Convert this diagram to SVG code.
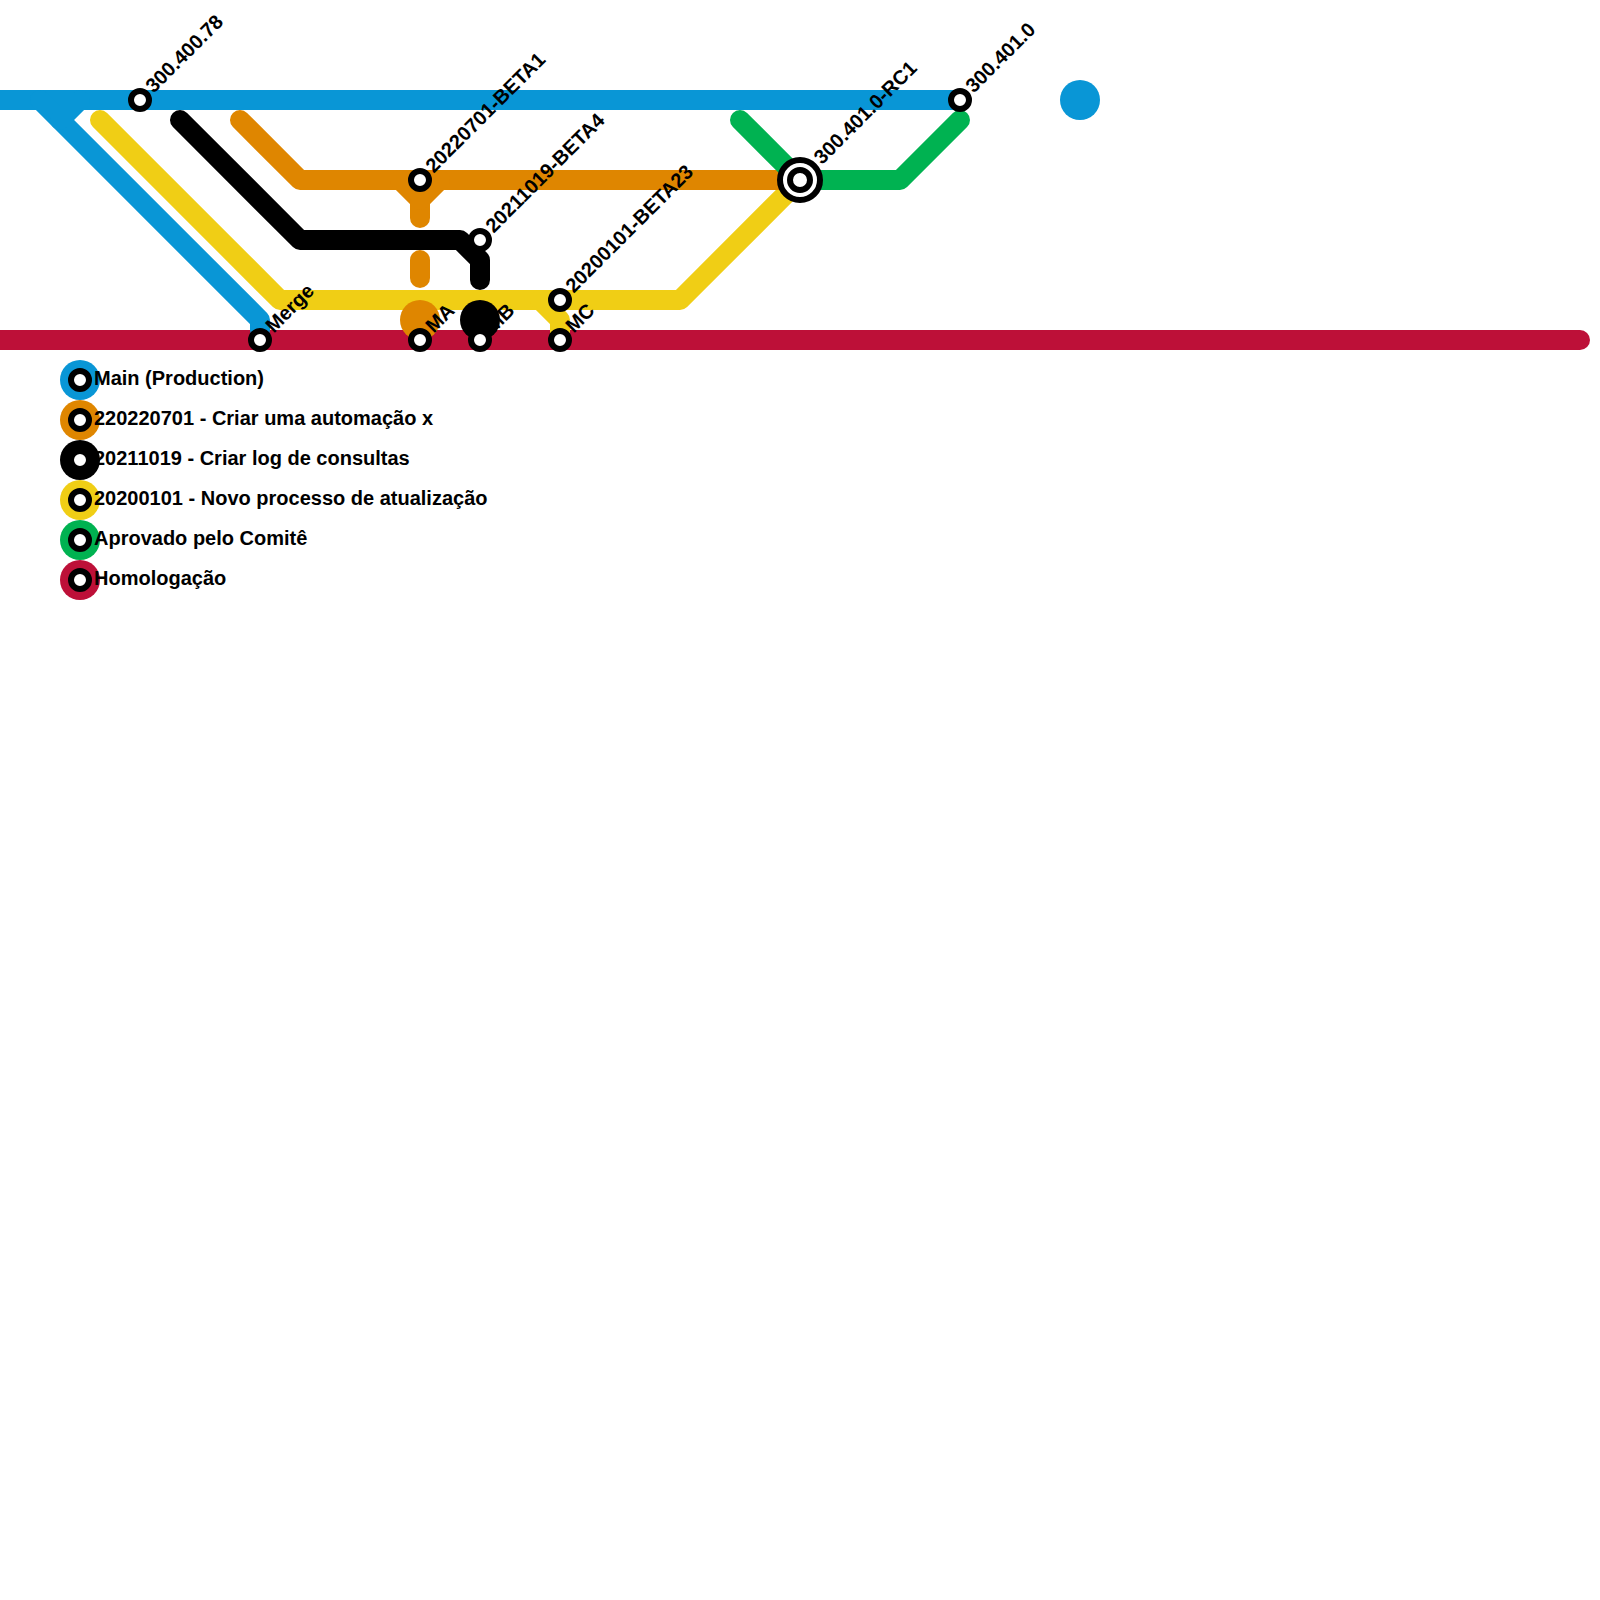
<svg xmlns="http://www.w3.org/2000/svg" width="1600" height="1600" viewBox="0 0 1600 1600">
  <style>
    .ln { fill: none; stroke-width: 20; stroke-linecap: round; stroke-linejoin: round; }
    .blue { stroke: #0996d6; }
    .orange { stroke: #df8600; }
    .black { stroke: #000000; }
    .yellow { stroke: #f0ce15; }
    .green { stroke: #00b251; }
    .red { stroke: #bd1038; }
    .st { fill: #ffffff; stroke: #000000; stroke-width: 6; }
    .lbl { font-family: "Liberation Sans", Arial, sans-serif; font-weight: bold; font-size: 20px; fill: #000000; dominant-baseline: middle; }
  </style>
  <rect width="1600" height="1600" fill="#ffffff"/>

  <g id="connectors">
    <path class="ln red" d="M-20,340 L1580,340"/>
    <path class="ln blue" style="stroke-linecap:butt" d="M-20,100 L960,100"/>
    <path class="ln blue" d="M40,100 L60,120 L260,320 L260,330"/>
    <path class="ln blue" d="M80,100 L60,120"/>
    <path class="ln yellow" d="M100,120 L280,300 L680,300 L800,180"/>
    <path class="ln yellow" d="M540,300 L560,320 L560,335"/>
    <path class="ln black" d="M180,120 L300,240 L460,240 L480,260 L480,280"/>
    <path class="ln orange" d="M240,120 L300,180 L800,180"/>
    <path class="ln orange" d="M400,180 L420,200 L420,218"/>
    <path class="ln orange" d="M440,180 L420,200"/>
    <path class="ln orange" d="M420,260 L420,278"/>
    <path class="ln green" d="M740,120 L800,180 L900,180 L960,120"/>
  </g>

  <g id="merge-markers">
    <circle cx="420" cy="320" r="20" fill="#df8600"/>
    <circle cx="480" cy="320" r="20" fill="#000000"/>
    <circle cx="1080" cy="100" r="20" fill="#0996d6"/>
  </g>

  <g id="node-300.400.78">
    <circle class="st" cx="140" cy="100" r="9"/>
    <text class="lbl" x="154" y="100" transform="rotate(-45 140 100)">300.400.78</text>
  </g>
  <g id="node-20220701-BETA1">
    <circle class="st" cx="420" cy="180" r="9"/>
    <text class="lbl" x="434" y="180" transform="rotate(-45 420 180)">20220701-BETA1</text>
  </g>
  <g id="node-20211019-BETA4">
    <circle class="st" cx="480" cy="240" r="9"/>
    <text class="lbl" x="494" y="240" transform="rotate(-45 480 240)">20211019-BETA4</text>
  </g>
  <g id="node-20200101-BETA23">
    <circle class="st" cx="560" cy="300" r="9"/>
    <text class="lbl" x="574" y="300" transform="rotate(-45 560 300)">20200101-BETA23</text>
  </g>
  <g id="node-300.401.0-RC1">
    <circle cx="800" cy="180" r="20" fill="#ffffff" stroke="#000000" stroke-width="6"/>
    <circle class="st" cx="800" cy="180" r="10"/>
    <text class="lbl" x="826" y="180" transform="rotate(-45 800 180)">300.401.0-RC1</text>
  </g>
  <g id="node-300.401.0">
    <circle class="st" cx="960" cy="100" r="9"/>
    <text class="lbl" x="974" y="100" transform="rotate(-45 960 100)">300.401.0</text>
  </g>
  <g id="node-Merge">
    <circle class="st" cx="260" cy="340" r="9"/>
    <text class="lbl" x="274" y="340" transform="rotate(-45 260 340)">Merge</text>
  </g>
  <g id="node-MA">
    <circle class="st" cx="420" cy="340" r="9"/>
    <text class="lbl" x="434" y="340" transform="rotate(-45 420 340)">MA</text>
  </g>
  <g id="node-MB">
    <circle class="st" cx="480" cy="340" r="9"/>
    <text class="lbl" x="494" y="340" transform="rotate(-45 480 340)">MB</text>
  </g>
  <g id="node-MC">
    <circle class="st" cx="560" cy="340" r="9"/>
    <text class="lbl" x="574" y="340" transform="rotate(-45 560 340)">MC</text>
  </g>

  <g id="legend">
    <g id="legend-main">
      <circle cx="80" cy="380" r="20" fill="#0996d6"/>
      <circle class="st" cx="80" cy="380" r="9"/>
      <text class="lbl" x="94" y="380">Main (Production)</text>
    </g>
    <g id="legend-220220701">
      <circle cx="80" cy="420" r="20" fill="#df8600"/>
      <circle class="st" cx="80" cy="420" r="9"/>
      <text class="lbl" x="94" y="420">220220701 - Criar uma automação x</text>
    </g>
    <g id="legend-20211019">
      <circle cx="80" cy="460" r="20" fill="#000000"/>
      <circle class="st" cx="80" cy="460" r="9"/>
      <text class="lbl" x="94" y="460">20211019 - Criar log de consultas</text>
    </g>
    <g id="legend-20200101">
      <circle cx="80" cy="500" r="20" fill="#f0ce15"/>
      <circle class="st" cx="80" cy="500" r="9"/>
      <text class="lbl" x="94" y="500">20200101 - Novo processo de atualização</text>
    </g>
    <g id="legend-comite">
      <circle cx="80" cy="540" r="20" fill="#00b251"/>
      <circle class="st" cx="80" cy="540" r="9"/>
      <text class="lbl" x="94" y="540">Aprovado pelo Comitê</text>
    </g>
    <g id="legend-homologacao">
      <circle cx="80" cy="580" r="20" fill="#bd1038"/>
      <circle class="st" cx="80" cy="580" r="9"/>
      <text class="lbl" x="94" y="580">Homologação</text>
    </g>
  </g>
</svg>
